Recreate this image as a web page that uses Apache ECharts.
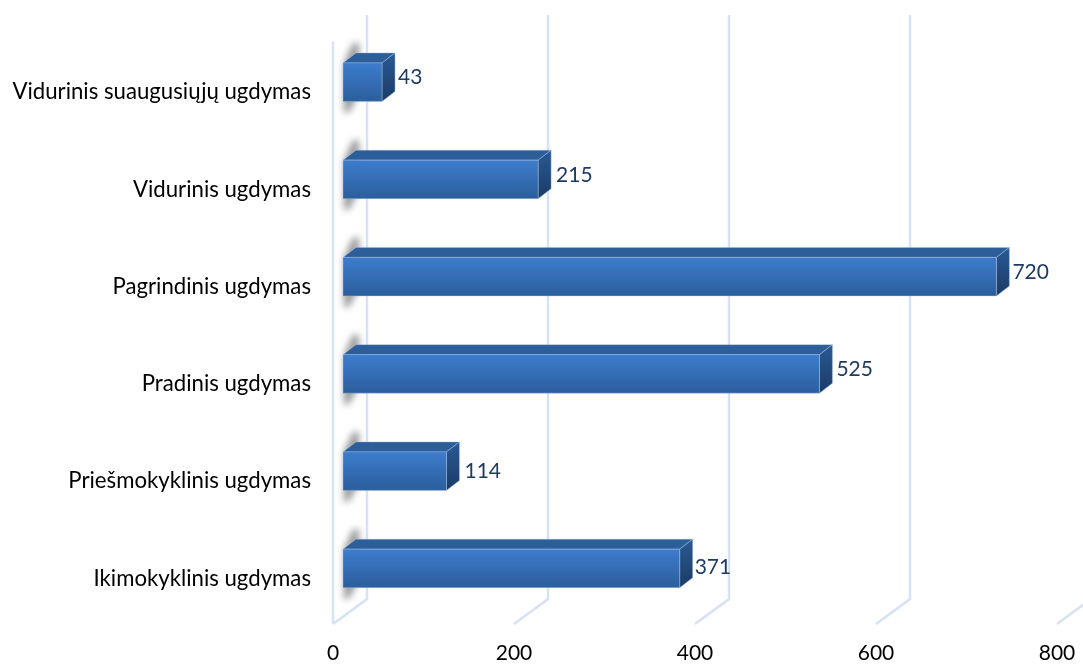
<!DOCTYPE html>
<html><head><meta charset="utf-8">
<style>html,body{margin:0;padding:0;background:#fff}#c{width:1083px;height:664px}</style>
<script src="https://cdn.jsdelivr.net/npm/echarts@6/dist/echarts.min.js"></script>
</head><body><div id="c"></div>
<script>
const categories = ['Ikimokyklinis ugdymas','Priešmokyklinis ugdymas','Pradinis ugdymas','Pagrindinis ugdymas','Vidurinis ugdymas','Vidurinis suaugusiųjų ugdymas'];
const values = [371,114,525,720,215,43];
const ticks = [0,200,400,600,800];

const FONT = 'Lato';
const GRID_COLOR = '#d6e2f5';
const DX = 13, DY = 10, BAR_H = 38.5;
const WALL_DX = 34, WALL_DY = 25, WALL_TOP = 15;
const LABEL_DX = [15,18,17,16,18,16];
const LABEL_DY = [-1.5,0,-5,-4,-4,-5];
const OFF = 3000;

function grad(x0,y0,x1,y1,a,b){
  return new echarts.graphic.LinearGradient(x0,y0,x1,y1,[{offset:0,color:a},{offset:1,color:b}]);
}

function renderGrid(params, api){
  const p = api.coord([api.value(0), 0]);
  const x = p[0], floor = params.coordSys.y + params.coordSys.height;
  const children = [{
    type:'polyline',
    shape:{points:[[x,floor],[x+WALL_DX,floor-WALL_DY],[x+WALL_DX,WALL_TOP]]},
    style:{stroke:GRID_COLOR,lineWidth:2.5,fill:null}
  }];
  if(params.dataIndex===0){
    children.push({type:'line',shape:{x1:x,y1:params.coordSys.y,x2:x,y2:floor},
      style:{stroke:GRID_COLOR,lineWidth:2.5}});
  }
  return {type:'group',children};
}

function renderShadow(params, api){
  const p = api.coord([0, api.value(1)]);
  const x = p[0], h = BAR_H/2, y = p[1];
  return {type:'polygon',
    shape:{points:[[x+1-OFF,y-h],[x+10-OFF,y-h-20],[x+16-OFF,y-h-20],[x+16-OFF,y+h-8],[x+6-OFF,y+h+11],[x+1-OFF,y+h+11]]},
    style:{fill:'#000',shadowBlur:7,shadowColor:'#999999',shadowOffsetX:OFF}};
}

function renderBar(params, api){
  const p0 = api.coord([0, api.value(1)]);
  const p1 = api.coord([api.value(0), api.value(1)]);
  const x0 = p0[0], x1 = p1[0], h = BAR_H/2, y = p1[1];
  const edge = {stroke:'rgba(170,195,230,0.6)',lineWidth:0.7};
  const i = params.dataIndex;
  return {type:'group',children:[
    {type:'polygon',shape:{points:[[x0,y-h],[x0+DX,y-h-DY],[x1+DX,y-h-DY],[x1,y-h]]},
      style:Object.assign({fill:'#2c5e99'},edge)},
    {type:'polygon',shape:{points:[[x1,y-h],[x1+DX,y-h-DY],[x1+DX,y+h-DY],[x1,y+h]]},
      style:Object.assign({fill:grad(0,0,0,1,'#2a5a94','#1b3b66')},edge)},
    {type:'rect',shape:{x:x0,y:y-h,width:x1-x0,height:BAR_H},
      style:Object.assign({fill:grad(0,0,0,1,'#3d7dcd','#2b5e9c')},edge)},
    {type:'text',x:x1+LABEL_DX[i],y:y+LABEL_DY[i],style:{text:String(api.value(0)),fill:'#1f3b63',
      font:'21px '+FONT,align:'left',verticalAlign:'middle'}}
  ]};
}

const chart = echarts.init(document.getElementById('c'),null,{renderer:'canvas'});
chart.setOption({
  animation:false,
  backgroundColor:'#fff',
  grid:[
    {left:333,top:41.5,width:724,height:583.5},
    {left:343,top:33.5,width:726,height:583.5},
    {left:333,top:43.5,width:724,height:583.5}
  ],
  xAxis:[
    {gridIndex:0,type:'value',min:0,max:800,interval:200,
      axisLine:{show:false},axisTick:{show:false},splitLine:{show:false},
      axisLabel:{color:'#000',fontFamily:FONT,fontSize:21,margin:19,hideOverlap:false}},
    {gridIndex:1,type:'value',min:0,max:800,interval:200,show:false},
    {gridIndex:2,type:'value',min:0,max:800,interval:200,show:false}
  ],
  yAxis:[
    {gridIndex:0,type:'category',data:categories,show:false},
    {gridIndex:1,type:'category',data:categories,show:false},
    {gridIndex:2,type:'category',data:categories,
      axisLine:{show:false},axisTick:{show:false},splitLine:{show:false},
      axisLabel:{color:'#000',fontFamily:FONT,fontSize:22.2,margin:22,interval:0}}
  ],
  series:[
    {type:'custom',xAxisIndex:0,yAxisIndex:0,z:1,clip:false,silent:true,
      renderItem:renderGrid,encode:{x:0},data:ticks.map(t=>[t])},
    {type:'custom',xAxisIndex:1,yAxisIndex:1,z:2,clip:false,silent:true,
      renderItem:renderShadow,encode:{x:0,y:1},data:values.map((v,i)=>[v,i])},
    {type:'custom',xAxisIndex:1,yAxisIndex:1,z:3,clip:false,silent:true,
      renderItem:renderBar,encode:{x:0,y:1},data:values.map((v,i)=>[v,i])}
  ]
});
</script></body></html>
